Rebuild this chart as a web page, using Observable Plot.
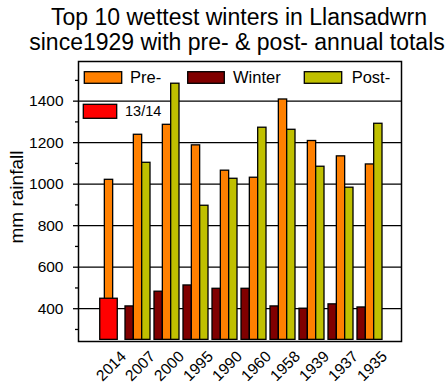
<!DOCTYPE html>
<html><head><meta charset="utf-8">
<script src="https://cdn.jsdelivr.net/npm/d3@7"></script>
<script src="https://cdn.jsdelivr.net/npm/@observablehq/plot@0.6"></script>
<style>
body{margin:0;background:#fff;}
#wrap{position:relative;width:447px;height:386px;font-family:"Liberation Sans",Arial,sans-serif;}
#wrap svg{position:absolute;left:0;top:0;}
</style></head>
<body><div id="wrap"></div>
<script>
// ---- data ----
const years = ["2014","2007","2000","1995","1990","1960","1958","1939","1937","1935"];
const preTotals = [1021, 1238, 1286, 1187, 1065, 1031, 1408, 1208, 1134, 1095];
const winterTotals = [null, 411, 482, 512, 496, 496, 411, 400, 421, 406];
const postTotals = [null, 1103, 1484, 896, 1026, 1272, 1262, 1084, 983, 1291];
const currentWinter = [{year: "2014", value: 448}];
const yMajorTicks = [400, 600, 800, 1000, 1200, 1400];
const yMinorTicks = [300, 500, 700, 900, 1100, 1300, 1500];
const seriesNames = ["Pre-", "Winter", "Post-", "13/14"];
const seriesColors = ["#FF8000", "#800000", "#C0C000", "#FF0000"];
const titleLines = ["Top 10 wettest winters in Llansadwrn", "since1929 with pre- & post- annual totals"];
const yLabel = "mm rainfall";
const baseValue = 250;

const rows = (vals) => years.map((y, i) => ({year: y, value: vals[i]})).filter(d => d.value != null);
const preRows = rows(preTotals), winterRows = rows(winterTotals), postRows = rows(postTotals);

// ---- layout ----
const W = 447, H = 386, mL = 78, mR = 46, mT = 61, mB = 45;
const pIn = 0.155, pOut = 0.53, align = 0.47;
const step = (W - mL - mR) / (years.length - pIn + 2 * pOut);
const bw = step * (1 - pIn), slot = bw / 3;
const font = "Liberation Sans, Arial, sans-serif";

function bars(data, k, fill, extra = 0) {
  return Plot.barY(data, {
    x: "year", y1: baseValue, y2: "value", fill, stroke: "black", strokeWidth: 1.3,
    insetLeft: slot * k - extra, insetRight: slot * (2 - k) - extra
  });
}

const chart = Plot.plot({
  width: W, height: H, marginLeft: mL, marginRight: mR, marginTop: mT, marginBottom: mB,
  style: {fontFamily: font, color: "black", background: "white"},
  x: {type: "band", domain: years, paddingInner: pIn, paddingOuter: pOut, align, axis: null},
  y: {domain: [242, 1591], label: null, axis: null},
  marks: [
    Plot.ruleY(yMajorTicks, {stroke: "black", strokeWidth: 1.3}),
    bars(winterRows, 0, seriesColors[1]),
    bars(preRows, 1, seriesColors[0]),
    bars(postRows, 2, seriesColors[2]),
    bars(currentWinter, 1, seriesColors[3], 4.6),
    Plot.frame({stroke: "black", strokeWidth: 1.5}),
    Plot.axisY(yMajorTicks, {tickSize: 5, tickPadding: 10, fontSize: 15.5, strokeWidth: 1.3, label: null,
      tickFormat: d3.format("d")}),
    Plot.axisY(yMinorTicks, {tickSize: 3, tickFormat: () => "", strokeWidth: 1.3, label: null}),
    Plot.text(years, {x: d => d, text: d => d, frameAnchor: "bottom", rotate: -45, textAnchor: "end",
      lineAnchor: "bottom", dx: 18, dy: 16, fontSize: 15.5, fill: "black"}),
    Plot.text([yLabel], {text: d => d, frameAnchor: "left", rotate: -90, textAnchor: "middle",
      lineAnchor: "bottom", dx: -55.6, dy: -4.5, fontSize: 19, fill: "black"})
  ]
});
const wrap = document.getElementById("wrap");
wrap.appendChild(chart);

// ---- overlay: title + legend ----
const ov = d3.select(wrap).append("svg").attr("width", W).attr("height", H)
  .style("pointer-events", "none").attr("font-family", font);
ov.selectAll("text.t").data(titleLines).join("text").attr("class", "t")
  .attr("x", (d, i) => i ? 237 : 239).attr("y", (d, i) => 25 + 25 * i)
  .attr("text-anchor", "middle").attr("font-size", 23).attr("fill", "black").text(d => d);

const legendPos = [
  {rx: 84.3, ry: 71.7, rw: 37.4, rh: 11.6, tx: 130, ty: 83.3, fs: 16.5},
  {rx: 187.7, ry: 71.7, rw: 36.6, rh: 11.6, tx: 233, ty: 83.3, fs: 16.5},
  {rx: 304.3, ry: 71.7, rw: 37.4, rh: 11.6, tx: 351.7, ty: 83.3, fs: 16.5},
  {rx: 83.3, ry: 104.3, rw: 33.4, rh: 14, tx: 125, ty: 116.3, fs: 14.5}
];
const lg = ov.selectAll("g.l").data(seriesNames).join("g").attr("class", "l");
lg.append("rect").attr("x", (d, i) => legendPos[i].rx).attr("y", (d, i) => legendPos[i].ry)
  .attr("width", (d, i) => legendPos[i].rw).attr("height", (d, i) => legendPos[i].rh)
  .attr("fill", (d, i) => seriesColors[i]).attr("stroke", "black").attr("stroke-width", 1.3);
lg.append("text").attr("x", (d, i) => legendPos[i].tx).attr("y", (d, i) => legendPos[i].ty)
  .attr("font-size", (d, i) => legendPos[i].fs).attr("fill", "black").text(d => d);
</script>
</body></html>
